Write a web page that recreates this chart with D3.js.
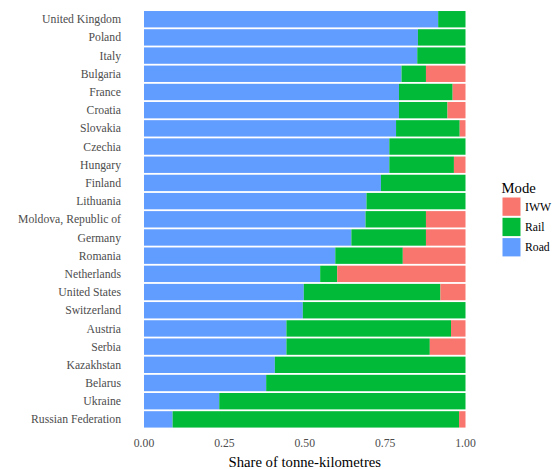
<!DOCTYPE html>
<html lang="en">
<head>
    <meta charset="UTF-8">
    <title>Share of tonne-kilometres by mode</title>
    <script src="https://d3js.org/d3.v7.min.js"></script>
    <style>
        body { margin: 0; background: #fff; }
        svg text { font-family: 'Liberation Serif', 'DejaVu Serif', serif; }
    </style>
</head>
<body>
    <svg id="chart" width="555" height="469"></svg>

    <script>
        // data, top to bottom
        const countries = ["United Kingdom", "Poland", "Italy", "Bulgaria", "France", "Croatia", "Slovakia",
            "Czechia", "Hungary", "Finland", "Lithuania", "Moldova, Republic of", "Germany", "Romania",
            "Netherlands", "United States", "Switzerland", "Austria", "Serbia", "Kazakhstan", "Belarus",
            "Ukraine", "Russian Federation"];
        const road = [0.915, 0.852, 0.850, 0.801, 0.793, 0.793, 0.784, 0.763, 0.763, 0.737, 0.692, 0.689,
            0.645, 0.595, 0.548, 0.497, 0.494, 0.443, 0.443, 0.407, 0.380, 0.234, 0.089];
        const rail = [0.085, 0.148, 0.150, 0.076, 0.167, 0.151, 0.198, 0.237, 0.201, 0.263, 0.308, 0.188,
            0.232, 0.210, 0.053, 0.425, 0.506, 0.512, 0.446, 0.593, 0.620, 0.766, 0.891];
        const iww = [0, 0, 0, 0.123, 0.040, 0.056, 0.018, 0, 0.036, 0, 0, 0.123,
            0.123, 0.195, 0.399, 0.078, 0, 0.045, 0.111, 0, 0, 0, 0.020];
        const modes = ["Road", "Rail", "IWW"];
        const legendModes = ["IWW", "Rail", "Road"];
        const xTicks = [0, 0.25, 0.5, 0.75, 1];

        const colors = { IWW: "#F8766D", Rail: "#00BA38", Road: "#619CFF" };
        const serif = "'Liberation Serif', 'DejaVu Serif', serif";

        const rows = countries.map((c, i) => ({ country: c, Road: road[i], Rail: rail[i], IWW: iww[i] }));

        const svg = d3.select("#chart");
        const margin = { left: 144, right: 89.5, top: 8.3, bottom: 38.7 };
        const W = 555, H = 469;

        const x = d3.scaleLinear().domain([0, 1]).range([margin.left, W - margin.right]);
        const y = d3.scaleBand().domain(countries)
            .range([margin.top, H - margin.bottom])
            .paddingInner(0.1).paddingOuter(0.15);

        const series = d3.stack().keys(modes)(rows);

        svg.append("g").selectAll("g")
            .data(series)
            .enter().append("g")
            .attr("fill", d => colors[d.key])
            .selectAll("rect")
            .data(d => d)
            .enter().append("rect")
            .attr("x", d => x(d[0]))
            .attr("width", d => Math.max(0, x(d[1]) - x(d[0])))
            .attr("y", d => y(d.data.country))
            .attr("height", y.bandwidth());

        // y axis labels
        svg.append("g").selectAll("text")
            .data(countries)
            .enter().append("text")
            .attr("x", 121)
            .attr("y", d => y(d) + y.bandwidth() / 2)
            .attr("dy", "0.35em")
            .attr("text-anchor", "end")
            .attr("fill", "#4D4D4D")
            .attr("font-family", serif)
            .attr("font-size", "11.7px")
            .text(d => d);

        // x axis labels
        svg.append("g").selectAll("text")
            .data(xTicks)
            .enter().append("text")
            .attr("x", d => x(d))
            .attr("y", 443)
            .attr("dy", "0.35em")
            .attr("text-anchor", "middle")
            .attr("fill", "#4D4D4D")
            .attr("font-family", serif)
            .attr("font-size", "11.7px")
            .text(d => d3.format(".2f")(d));

        svg.append("text")
            .attr("x", (x(0) + x(1)) / 2)
            .attr("y", 462)
            .attr("dy", "0.35em")
            .attr("text-anchor", "middle")
            .attr("fill", "#000")
            .attr("font-family", serif)
            .attr("font-size", "14.7px")
            .text("Share of tonne-kilometres");

        // legend
        const legend = svg.append("g");
        legend.append("text")
            .attr("x", 501.5)
            .attr("y", 188)
            .attr("dy", "0.35em")
            .attr("font-family", serif)
            .attr("font-size", "14.7px")
            .text("Mode");

        const items = legend.selectAll(".legend-item")
            .data(legendModes)
            .enter().append("g")
            .attr("class", "legend-item")
            .attr("transform", (d, i) => `translate(502.5, ${197.5 + i * 20.3})`);
        items.append("rect")
            .attr("width", 18)
            .attr("height", 18.3)
            .attr("fill", d => colors[d]);
        items.append("text")
            .attr("x", 22.5)
            .attr("y", 9.2)
            .attr("dy", "0.35em")
            .attr("font-family", serif)
            .attr("font-size", "11.7px")
            .text(d => d);
    </script>
</body>
</html>
